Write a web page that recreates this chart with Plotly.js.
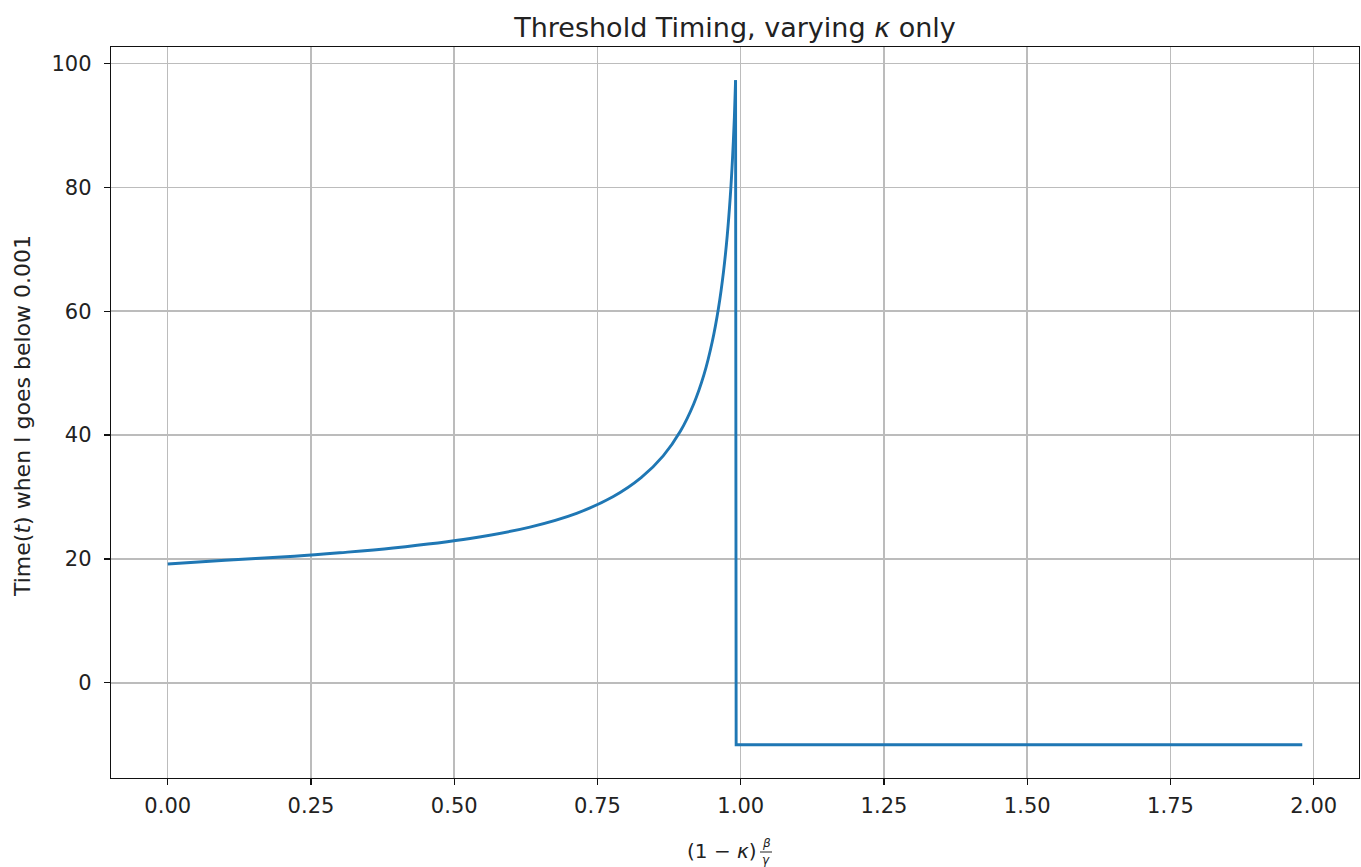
<!DOCTYPE html>
<html>
<head>
<meta charset="utf-8">
<script src="https://cdn.plot.ly/plotly-3.0.1.min.js"></script>
<style>html,body{margin:0;padding:0;background:#fff;}#chart{width:1361px;height:867px;}</style>
</head>
<body>
<div id="chart"></div>
<script>
// values: rising branch (x < 1)
const riseX = [0, 0.1, 0.2212, 0.3, 0.3935, 0.5276, 0.6321, 0.7135, 0.7769, 0.8262, 0.8647, 0.8946, 0.9179, 0.9361, 0.9502, 0.9612, 0.9698, 0.9765, 0.9817, 0.9857, 0.9889, 0.991];
const riseY = [19.2, 19.8, 20.44, 21.0, 21.78, 23.31, 25.15, 27.37, 30.03, 33.12, 36.65, 40.62, 45.03, 49.84, 55.03, 60.53, 66.28, 72.25, 78.41, 84.75, 91.26, 97.3];
// drop and flat branch (x >= 1)
const flatX = [0.991, 0.992, 1.98];
const flatY = [97.3, -10, -10];
const xTicks = [0, 0.25, 0.5, 0.75, 1.0, 1.25, 1.5, 1.75, 2.0];
const yTicks = [0, 20, 40, 60, 80, 100];
const titleText = "Threshold Timing, varying <i>κ</i> only";
const yTitleText = "Time(<i>t</i>) when I goes below 0.001";

const W = 1361, H = 867;
const L = 111, R = 2, T = 47, B = 89;
const pw = W - L - R, ph = H - T - B;
const px = p => (p - L) / pw;
const py = p => (H - B - p) / ph;

const font = "DejaVu Sans, sans-serif";
const axisCommon = {
  showgrid: true, gridcolor: "#bcbcbc", gridwidth: 1.5,
  zeroline: false, showline: true, linecolor: "#111", linewidth: 1.3, mirror: true,
  ticks: "outside", ticklen: 6, tickwidth: 1.3, tickcolor: "#111",
  tickfont: {family: font, size: 21, color: "#222"}
};

const lineStyle = {color: "#1f77b4", width: 2.9};
const traces = [
  {x: riseX, y: riseY, type: "scatter", mode: "lines",
   line: Object.assign({shape: "spline", smoothing: 1}, lineStyle), hoverinfo: "skip", showlegend: false},
  {x: flatX, y: flatY, type: "scatter", mode: "lines",
   line: lineStyle, hoverinfo: "skip", showlegend: false}
];

const layout = {
  width: W, height: H,
  margin: {l: L, r: R, t: T, b: B, pad: 0},
  paper_bgcolor: "#fff", plot_bgcolor: "#fff",
  title: {text: titleText, x: (L + pw / 2) / W, xref: "container", xanchor: "center",
          y: 1 - 28 / H, yref: "container", yanchor: "middle",
          font: {family: font, size: 27, color: "#222"}},
  xaxis: Object.assign({}, axisCommon, {
    range: [-0.099, 2.079], tickvals: xTicks, tickformat: ".2f", ticklabelstandoff: 2
  }),
  yaxis: Object.assign({}, axisCommon, {
    range: [-15.365, 102.665], tickvals: yTicks, tickformat: "d", ticklabelstandoff: 8
  }),
  annotations: [
    {text: yTitleText, xref: "paper", yref: "paper", x: px(22), y: py(416),
     xanchor: "center", yanchor: "middle", textangle: -90, showarrow: false,
     font: {family: font, size: 22, color: "#222"}},
    {text: "(1 − <i>κ</i>)", xref: "paper", yref: "paper", x: px(759), y: py(851),
     xanchor: "right", yanchor: "middle", showarrow: false,
     font: {family: font, size: 20, color: "#222"}},
    {text: "<i>β</i>", xref: "paper", yref: "paper", x: px(766), y: py(843),
     xanchor: "center", yanchor: "middle", showarrow: false,
     font: {family: font, size: 12, color: "#222"}},
    {text: "<i>γ</i>", xref: "paper", yref: "paper", x: px(766), y: py(860),
     xanchor: "center", yanchor: "middle", showarrow: false,
     font: {family: font, size: 12, color: "#222"}}
  ],
  shapes: [
    {type: "line", xref: "paper", yref: "paper", x0: px(760), x1: px(772), y0: py(852), y1: py(852),
     line: {color: "#222", width: 1}}
  ]
};

Plotly.newPlot("chart", traces, layout, {displayModeBar: false, staticPlot: true});
</script>
</body>
</html>
